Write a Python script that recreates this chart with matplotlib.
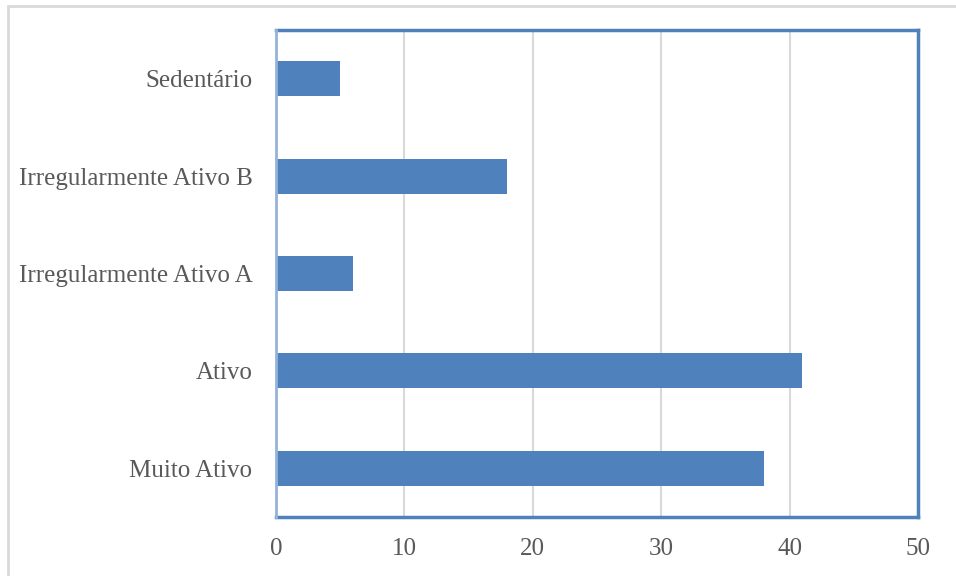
import matplotlib
matplotlib.use("Agg")
import matplotlib.pyplot as plt
from matplotlib.patches import Rectangle

categories = ["Muito Ativo", "Ativo", "Irregularmente Ativo A", "Irregularmente Ativo B", "Sedentário"]
values = [38, 41, 6, 18, 5]
xticks = [0, 10, 20, 30, 40, 50]

BLUE = "#4F81BD"
plt.rcParams["font.family"] = ["Liberation Serif", "DejaVu Serif"]

fig = plt.figure(figsize=(9.56, 5.76), dpi=100)
ax = fig.add_axes([276 / 956, 1 - 517 / 576, (918 - 276) / 956, (517 - 30) / 576])

# moldura cinza do gráfico
fig.patches.append(Rectangle((8 / 956, -0.05), 1.1, 1 - 6 / 576 + 0.05, transform=fig.transFigure,
                             fill=False, edgecolor="#D9D9D9", linewidth=2))

ax.barh(range(len(categories)), values, height=0.36, color=BLUE, zorder=3)
ax.set_ylim(-0.5, len(categories) - 0.5)
ax.set_xlim(0, 50)
ax.set_xticks(xticks)
ax.set_yticks(range(len(categories)))
ax.set_yticklabels(categories)
ax.grid(axis="x", color="#D9D9D9", linewidth=1.5, zorder=0)
ax.tick_params(length=0, labelsize=18, labelcolor="#595959")
ax.tick_params(axis="x", pad=15)
ax.tick_params(axis="y", pad=17)
for s in ["top", "right", "bottom"]:
    ax.spines[s].set_color(BLUE)
    ax.spines[s].set_linewidth(2.5)
ax.spines["left"].set_color("#95B3D7")
ax.spines["left"].set_linewidth(2)
ax.spines["left"].set_zorder(4)

fig.savefig("out.png", dpi=100)
